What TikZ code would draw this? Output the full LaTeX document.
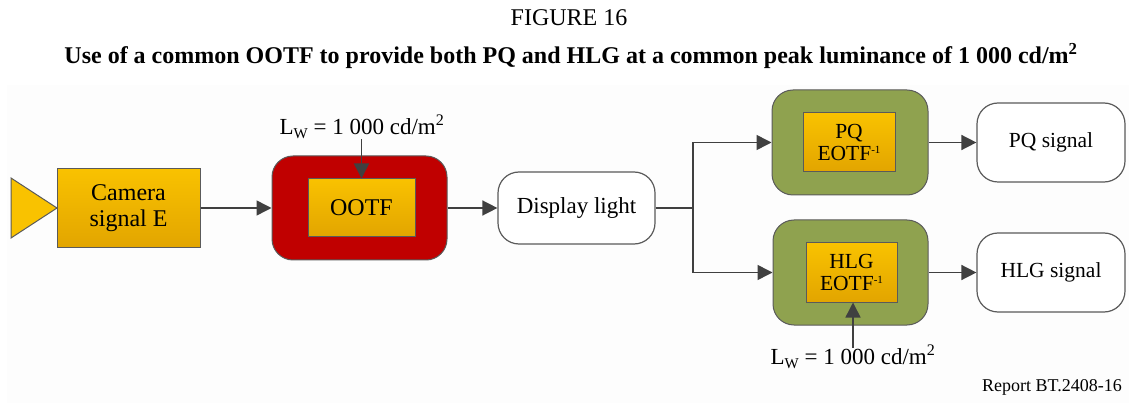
\documentclass[tikz,border=0pt]{standalone}
\usepackage{fontspec}
\setmainfont{Liberation Serif}
\usetikzlibrary{arrows.meta}
\definecolor{arrgray}{HTML}{404040}
\definecolor{bordgray}{HTML}{5A5A5A}
\definecolor{yeltop}{HTML}{F9C200}
\definecolor{yelbot}{HTML}{E2A500}
\definecolor{redbox}{HTML}{C00000}
\definecolor{greenbox}{HTML}{8FA24F}
\definecolor{bgfaint}{HTML}{FDFDFD}
\newcommand{\supm}{\raisebox{0.75ex}{\fontsize{11}{11}\selectfont -1}}
\newcommand{\subw}{\raisebox{-0.35ex}{\fontsize{15}{15}\selectfont W}}
\tikzset{
  arr/.style={draw=arrgray, line width=1.5pt, -{Triangle[length=15pt,width=15pt]}},
  line/.style={draw=arrgray, line width=1.5pt},
  yelbox/.style={draw=bordgray, line width=1pt, top color=yeltop, bottom color=yelbot, inner sep=0pt, align=center},
  outerbox/.style={draw=bordgray, line width=1pt, rounded corners=21pt, inner sep=0pt},
  sigbox/.style={draw=bordgray, line width=1.2pt, fill=white, rounded corners=21pt, inner sep=0pt, align=center},
  big/.style={font=\fontsize{24}{26}\selectfont},
  mid/.style={font=\fontsize{21.5}{22}\selectfont},
  lbl/.style={inner sep=0pt, font=\fontsize{23}{26}\selectfont},
}
\begin{document}
\begin{tikzpicture}[x=1pt,y=-1pt]
\useasboundingbox (0,0) rectangle (1129,403);
\fill[bgfaint] (7,85) rectangle (1129,403);
% titles
\node[inner sep=0pt, font=\fontsize{24}{26}\selectfont] (fig) at (569,18) {FIGURE 16};
\node[inner sep=0pt, font=\fontsize{24}{26}\selectfont\bfseries] (title) at (571,56) {Use of a common OOTF to provide both PQ and HLG at a common peak luminance of 1 000 cd/m\textsuperscript{2}};
% source triangle
\draw[draw=bordgray, line width=1pt, fill=yeltop] (11,178) -- (57,208) -- (11,238) -- cycle;
% camera
\node[yelbox, big, minimum width=143pt, minimum height=79pt] (cam) at (128.5,208) {Camera\\signal E};
% OOTF
\node[outerbox, fill=redbox, minimum width=175pt, minimum height=104pt] (ootfo) at (359.5,208) {};
\node[yelbox, big, minimum width=107pt, minimum height=58pt] (ootf) at (361.5,208) {OOTF};
\node[lbl] (lw1) at (362,127) {L\subw{} = 1 000 cd/m\textsuperscript{2}};
% display light
\node[sigbox, font=\fontsize{23}{26}\selectfont, minimum width=157pt, minimum height=72pt] (disp) at (576.5,208) {Display light};
% PQ
\node[outerbox, fill=greenbox, minimum width=156pt, minimum height=105pt] (pqo) at (850,142.5) {};
\node[yelbox, mid, minimum width=92pt, minimum height=59pt] (pq) at (849,142.5) {PQ\\EOTF\supm};
% HLG
\node[outerbox, fill=greenbox, minimum width=155pt, minimum height=105pt] (hlgo) at (850.5,272.5) {};
\node[yelbox, mid, minimum width=91pt, minimum height=59pt] (hlg) at (851.5,272.5) {HLG\\EOTF\supm};
\node[lbl] (lw2) at (853,357) {L\subw{} = 1 000 cd/m\textsuperscript{2}};
% outputs
\node[sigbox, mid, minimum width=148pt, minimum height=79pt] (pqs) at (1051,142.5) {PQ signal};
\node[sigbox, mid, minimum width=148pt, minimum height=79pt] (hlgs) at (1051,272.5) {HLG signal};
% report
\node[inner sep=0pt, anchor=east, font=\fontsize{18}{20}\selectfont] (rep) at (1122,387) {Report BT.2408-16};
% connectors
\coordinate (br) at (693,208);
\draw[arr] (cam.east) -- (ootfo.west);
\draw[arr] (lw1.south -| ootf.north) -- (ootf.north);
\draw[arr] (ootfo.east) -- (disp.west);
\draw[line] (disp.east) -- (br);
\draw[arr] (br) |- (pqo.west);
\draw[arr] (br) |- (hlgo.west);
\draw[arr] (pqo.east) -- (pqs.west);
\draw[arr] (hlgo.east) -- (hlgs.west);
\draw[arr] ([yshift=-3pt]lw2.north) -- (lw2.north |- hlg.south);
\end{tikzpicture}
\end{document}
